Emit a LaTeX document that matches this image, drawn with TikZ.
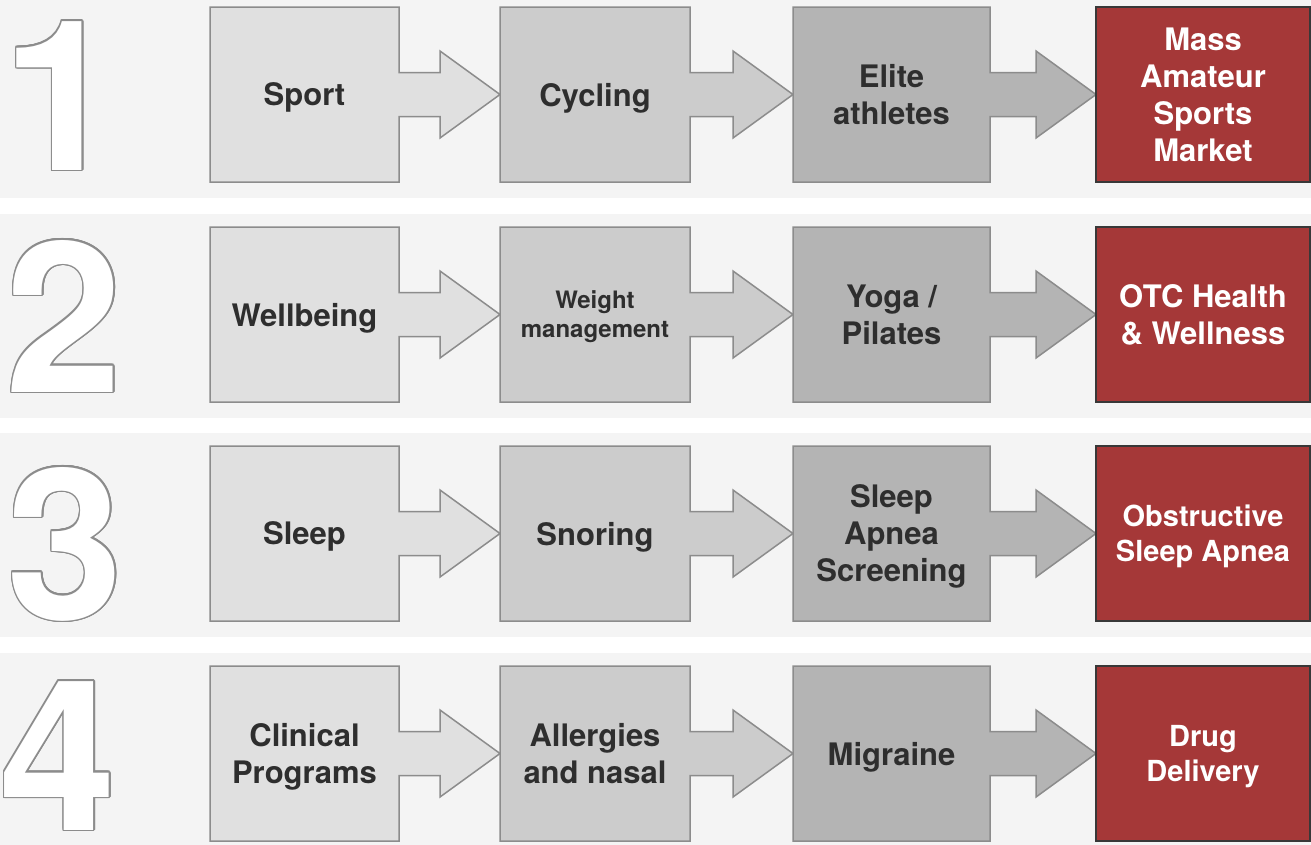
\documentclass[tikz,border=0pt]{standalone}
\usepackage{fontspec}
\setmainfont{TeX Gyre Heros}
\usepackage{contour}
\contourlength{1.6pt}
\usetikzlibrary{calc,backgrounds}

\definecolor{band}{HTML}{F4F4F4}
\definecolor{filla}{HTML}{E0E0E0}
\definecolor{fillb}{HTML}{CCCCCC}
\definecolor{fillc}{HTML}{B4B4B4}
\definecolor{market}{HTML}{A53838}
\definecolor{marketedge}{HTML}{383838}
\definecolor{edge}{HTML}{8C8C8C}
\definecolor{label}{HTML}{2E2E2E}

\tikzset{
  stage/.style={inner sep=0pt, outer sep=0pt, minimum height=175pt, anchor=north west,
    align=center, text depth=0pt, text=label, font=\bfseries\fontsize{31}{37}\selectfont},
  marketbox/.style={stage, minimum width=214pt, fill=market, draw=marketedge,
    line width=2pt, text=white},
  flow/.style={draw=edge, line width=1.5pt},
  numeral/.style={anchor=base, inner sep=0pt, text=white,
    font=\bfseries\fontsize{210}{210}\selectfont}
}

\begin{document}
\begin{tikzpicture}[x=1pt,y=-1pt]
\useasboundingbox (0,0) rectangle (1311,844);

\node[numeral] (n1) at (61,170) {\contour{edge}{1}};
\node[stage, minimum width=189pt] (a1) at (210,7) {Sport};
\node[stage, minimum width=190pt] (b1) at (500,7) {Cycling};
\node[stage, minimum width=197pt] (c1) at (793,7) {Elite\\athletes};
\node[marketbox] (d1) at (1096,7) {Mass\\Amateur\\Sports\\Market};

\node[numeral] (n2) at (64,392) {\contour{edge}{2}};
\node[stage, minimum width=189pt] (a2) at (210,227) {Wellbeing};
\node[stage, minimum width=190pt, font=\bfseries\fontsize{24}{29}\selectfont] (b2) at (500,227) {Weight\\management};
\node[stage, minimum width=197pt] (c2) at (793,227) {Yoga /\\Pilates};
\node[marketbox] (d2) at (1096,227) {OTC Health\\\& Wellness};

\node[numeral] (n3) at (65,619) {\contour{edge}{3}};
\node[stage, minimum width=189pt] (a3) at (210,446) {Sleep};
\node[stage, minimum width=190pt] (b3) at (500,446) {Snoring};
\node[stage, minimum width=197pt] (c3) at (793,446) {Sleep\\Apnea\\Screening};
\node[marketbox, font=\bfseries\fontsize{29}{35}\selectfont] (d3) at (1096,446) {Obstructive\\Sleep Apnea};

\node[numeral] (n4) at (58,830) {\contour{edge}{4}};
\node[stage, minimum width=189pt] (a4) at (210,666) {Clinical\\Programs};
\node[stage, minimum width=190pt] (b4) at (500,666) {Allergies\\and nasal};
\node[stage, minimum width=197pt] (c4) at (793,666) {Migraine};
\node[marketbox, font=\bfseries\fontsize{29}{35}\selectfont] (d4) at (1096,666) {Drug\\Delivery};

\begin{scope}[on background layer]
\fill[white] (0,0) rectangle (1311,844);
\foreach \r in {1,...,4} {
  \fill[band] ($(a\r.north west)+(-210,-13)$) rectangle ($(a\r.south west)+(1101,16)$);
  \foreach \p/\q in {a/b,b/c,c/d}
    \draw[flow, fill=fill\p] (\p\r.north west) -- (\p\r.north east)
      -- ($(\p\r.east)+(0,-22)$) -- ($(\q\r.west)+(-60,-22)$)
      -- ($(\q\r.west)+(-60,-43.5)$) -- (\q\r.west) -- ($(\q\r.west)+(-60,43.5)$)
      -- ($(\q\r.west)+(-60,22)$) -- ($(\p\r.east)+(0,22)$)
      -- (\p\r.south east) -- (\p\r.south west) -- cycle;
}
\end{scope}
\end{tikzpicture}
\end{document}
